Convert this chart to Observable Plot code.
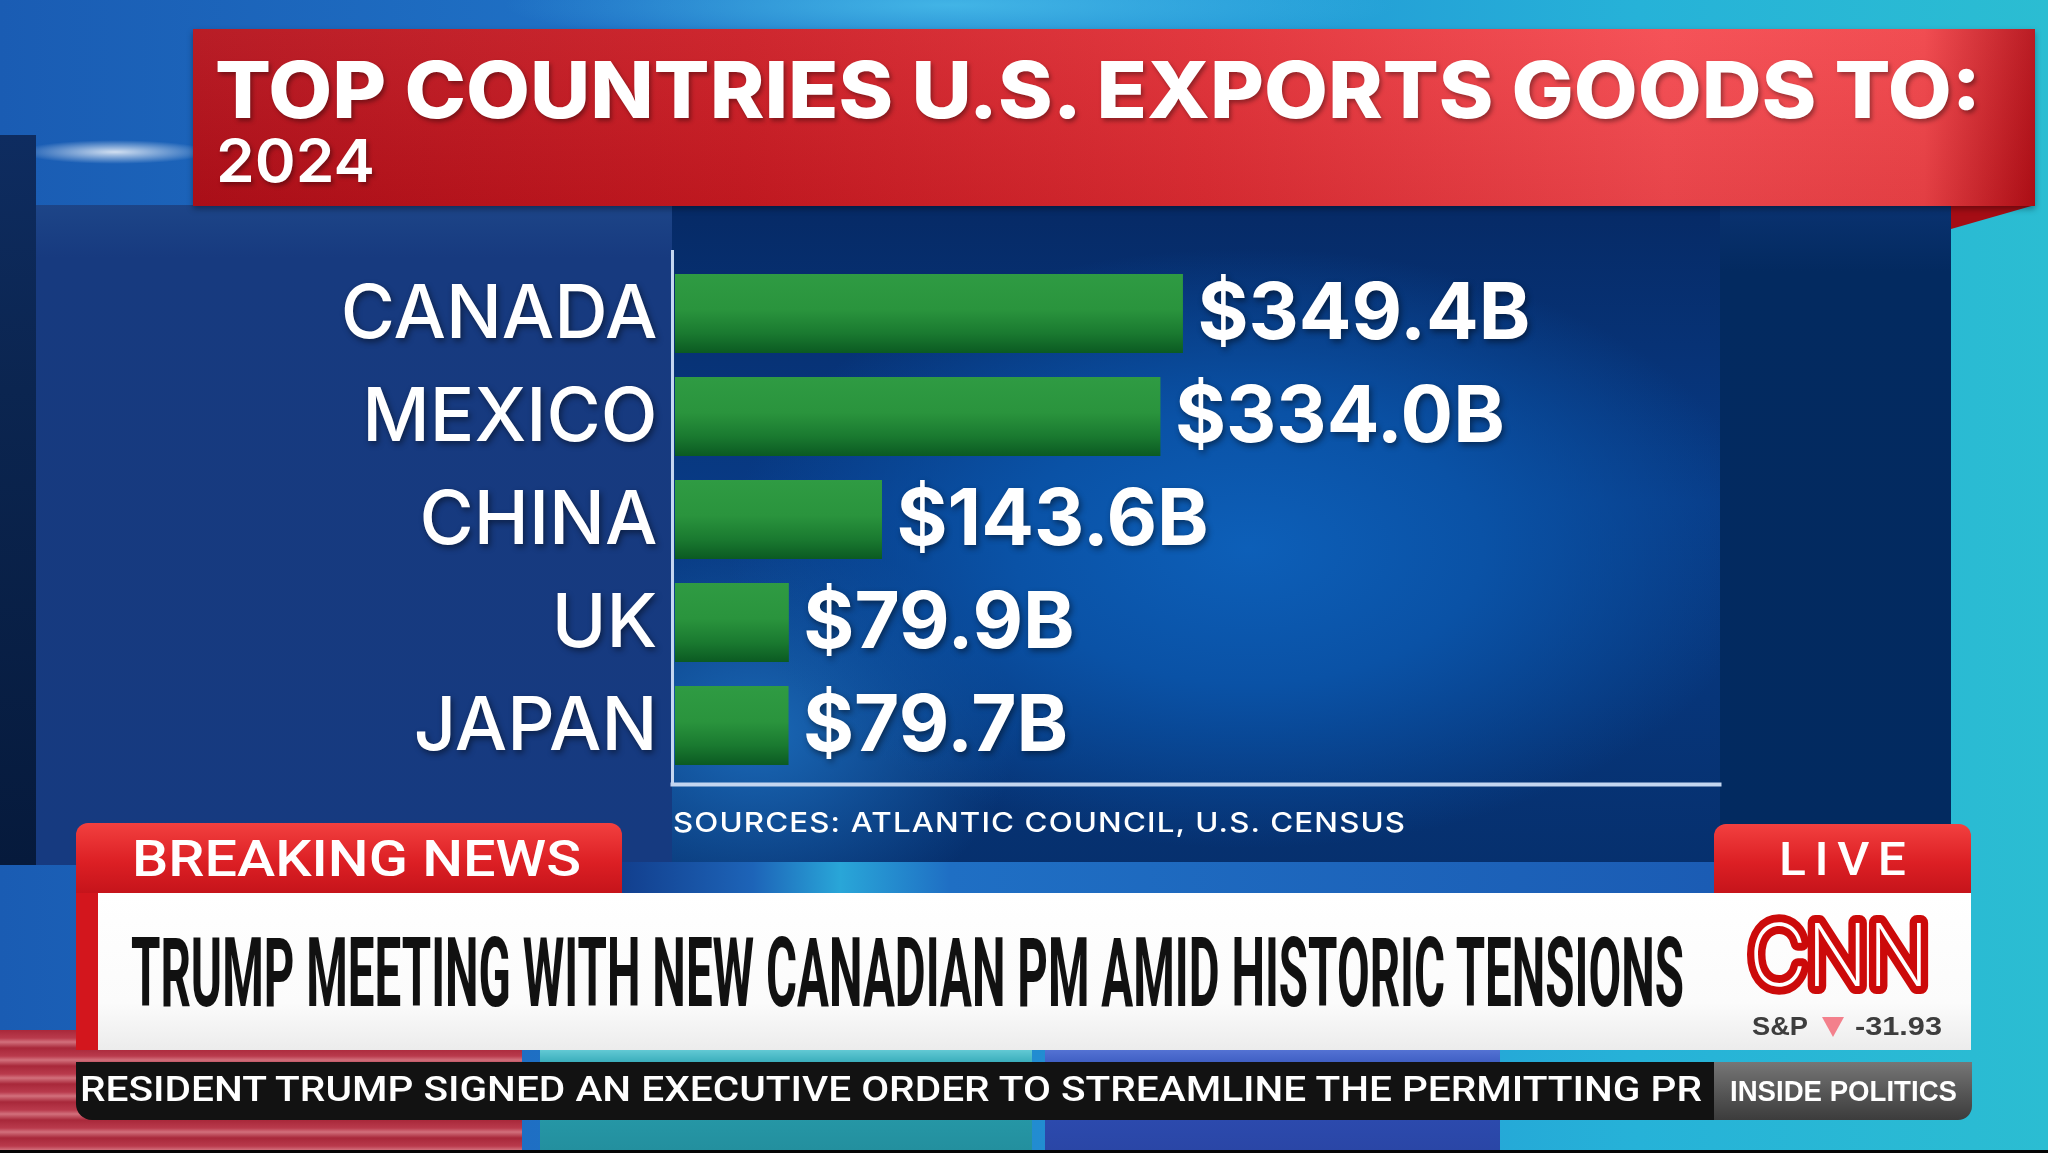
<!DOCTYPE html>
<html><head><meta charset="utf-8">
<script src="https://cdn.jsdelivr.net/npm/d3@7"></script>
<script src="https://cdn.jsdelivr.net/npm/@observablehq/plot@0.6"></script>
<style>
html,body{margin:0;padding:0;background:#1f8fd0;}
#stage{position:relative;width:2048px;height:1153px;overflow:hidden;font-family:Inter,sans-serif;}
.abs{position:absolute;}
.t{position:absolute;white-space:nowrap;line-height:1;transform-origin:0 0;}
#chart text{filter:drop-shadow(2px 3px 3px rgba(0,0,0,0.45));}
#chart g[aria-label="country-label"] text{letter-spacing:6px;}
#chart g[aria-label="value-label"] text{letter-spacing:5px;}
</style></head><body>
<div id="stage">
  <div class="abs" style="left:0;top:0;width:2048px;height:1153px;background:linear-gradient(90deg,#1a5cb3 0%,#1f72c6 30%,#2398d6 60%,#26b2d8 80%,#2bbdd2 100%);"></div>
  <div class="abs" style="left:500px;top:-40px;width:900px;height:90px;background:radial-gradient(ellipse at center,rgba(80,200,240,0.7),rgba(80,200,240,0) 70%);"></div>
  <div class="abs" style="left:20px;top:140px;width:190px;height:24px;background:radial-gradient(ellipse at center,rgba(255,255,255,0.8),rgba(255,255,255,0) 70%);"></div>
  <!-- left dark strip -->
  <div class="abs" style="left:0;top:135px;width:36px;height:730px;background:linear-gradient(180deg,#0e2c60 0%,#0b2550 35%,#061a3c 100%);"></div>
  <!-- main panel -->
  <div class="abs" style="left:36px;top:205px;width:1915px;height:660px;background:linear-gradient(180deg,#1d4588 0%,#173a7f 8%,#163a80 100%);"></div>
  <!-- chart area glow -->
  <div class="abs" style="left:672px;top:205px;width:1048px;height:660px;background:radial-gradient(ellipse 520px 300px at 55% 52%,#0d5fb8 0%,#0a52a6 45%,rgba(8,60,130,0) 100%),radial-gradient(ellipse 260px 200px at 8% 80%,#1a68b6 0%,rgba(20,90,170,0) 100%),linear-gradient(180deg,#062a66 0%,#083b86 45%,#06306e 100%);"></div>
  <!-- right navy strip -->
  <div class="abs" style="left:1720px;top:205px;width:231px;height:660px;background:linear-gradient(180deg,#0a3270 0%,#032a60 10%,#022a60 100%);"></div>
  <!-- red title band -->
  <div class="abs" style="left:1951px;top:205px;width:84px;height:24px;background:#a50d15;clip-path:polygon(0 0,100% 0,0 100%);"></div>
  <div class="abs" style="left:193px;top:29px;width:1842px;height:177px;background:linear-gradient(180deg,rgba(255,255,255,0.06),rgba(0,0,0,0.06)),linear-gradient(90deg,#b40f19 0%,#cb1a22 30%,#e02c33 55%,#f5484e 80%,#f04247 94%,#b50e16 100%);box-shadow:0 3px 6px rgba(0,0,0,0.35);"></div>
  <!-- lower background behind breaking news -->
  <div class="abs" style="left:622px;top:862px;width:1092px;height:32px;background:linear-gradient(90deg,#123f8e 0%,#1d64b8 12%,#29a6d8 20%,#1f6fc4 30%,#1b5cb4 100%);"></div>
  <div class="abs" style="left:0;top:1030px;width:522px;height:121px;background:repeating-linear-gradient(180deg,#a8283a 0px,#b93a4c 8px,#d2707c 12px,#a8283a 18px);"></div>
  <div class="abs" style="left:540px;top:1046px;width:492px;height:105px;background:linear-gradient(180deg,#6fd2dc 0%,#2aa3b2 20%,#238f9e 100%);"></div>
  <div class="abs" style="left:1045px;top:1046px;width:455px;height:105px;background:linear-gradient(180deg,#5a78d8 0%,#2f50b8 25%,#2a46a6 100%);"></div>
  <div class="abs" style="left:0;top:1150px;width:2048px;height:3px;background:#050505;"></div>
  <!-- tabs -->
  <div class="abs" style="left:76px;top:823px;width:546px;height:72px;border-radius:12px 12px 0 0;background:linear-gradient(180deg,#f2403f 0%,#dc1f24 55%,#c4131a 100%);"></div>
  <div class="abs" style="left:1714px;top:824px;width:257px;height:71px;border-radius:12px 12px 0 0;background:linear-gradient(180deg,#f2403f 0%,#dc1f24 55%,#c4131a 100%);"></div>
  <!-- white band -->
  <div class="abs" style="left:76px;top:893px;width:22px;height:157px;background:#d3161d;"></div>
  <div class="abs" style="left:98px;top:893px;width:1873px;height:157px;background:linear-gradient(180deg,#ffffff 0%,#fbfbfb 70%,#ececec 100%);"></div>
  <!-- ticker -->
  <div class="abs" id="ticker" style="left:76px;top:1062px;width:1638px;height:58px;background:#121212;border-radius:0 0 0 16px;"></div>
  <div class="abs" id="insidebox" style="left:1714px;top:1062px;width:258px;height:58px;background:linear-gradient(180deg,#767676 0%,#555 55%,#3c3c3c 100%);border-radius:0 0 14px 0;"></div>
  <!-- CNN logo -->
  <svg class="abs" style="left:1725px;top:880px;" width="230" height="135" viewBox="1725 880 230 135">
    <text x="1749" y="986" font-family="Inter" font-weight="200" font-size="86" textLength="180" lengthAdjust="spacingAndGlyphs" fill="#ffffff" stroke="#cc0a0a" stroke-width="16" stroke-linejoin="round" paint-order="stroke">CNN</text>
  </svg>
  <svg class="abs" style="left:1822px;top:1017px;" width="22" height="20"><polygon points="0,0 22,0 11,20" fill="#f3808c"/></svg>
</div>
<script>
const countries = ["CANADA", "MEXICO", "CHINA", "UK", "JAPAN"];
const exportsBillions = [349.4, 334.0, 143.6, 79.9, 79.7];
const titleText = "TOP COUNTRIES U.S. EXPORTS GOODS TO:";
const subtitleText = "2024";
const captionText = "SOURCES: ATLANTIC COUNCIL, U.S. CENSUS";

const data = countries.map((c, i) => ({country: c, value: exportsBillions[i]}));
const fmt = v => "$" + d3.format(".1f")(v) + "B";

const stage = document.getElementById("stage");

const chart = Plot.plot({
  width: 1760, height: 560,
  marginLeft: 672, marginRight: 41, marginTop: 11, marginBottom: 16,
  style: {background: "transparent", color: "white", overflow: "visible", fontFamily: "Inter"},
  x: {domain: [0, 716], axis: null},
  y: {domain: countries, type: "band", range: [22, 538], paddingInner: 0.23, paddingOuter: 0.1, axis: null},
  marks: [
    Plot.barX(data, {x: "value", y: "country", fill: "url(#barGrad)", insetLeft: 3}),
    Plot.frame({anchor: "left", stroke: "#c4d6f0", strokeWidth: 3}),
    Plot.frame({anchor: "bottom", stroke: "#c4d6f0", strokeWidth: 4}),
    Plot.text(data, {x: 0, y: "country", text: "country", textAnchor: "end", dx: -15, fontSize: 74, fontWeight: 500, fill: "white", ariaLabel: "country-label"}),
    Plot.text(data, {x: "value", y: "country", text: d => fmt(d.value), textAnchor: "start", dx: 14, fontSize: 78, fontWeight: 700, fill: "white", ariaLabel: "value-label"})
  ]
});
const ns = "http://www.w3.org/2000/svg";
const defs = document.createElementNS(ns, "defs");
defs.innerHTML = '<linearGradient id="barGrad" x1="0" y1="0" x2="0" y2="1">' +
  '<stop offset="0" stop-color="#2f9b43"/><stop offset="0.45" stop-color="#2a943d"/>' +
  '<stop offset="0.75" stop-color="#1a7a30"/><stop offset="1" stop-color="#0b5a22"/></linearGradient>';
chart.insertBefore(defs, chart.firstChild);
chart.id = "chart";
chart.style.position = "absolute";
chart.style.left = "0px";
chart.style.top = "240px";
chart.style.maxWidth = "none";
stage.appendChild(chart);

const metrics = {
  Inter: {asc: 0.96875, desc: 0.2421875, cap: 0.727},
  Roboto: {asc: 0.9277, desc: 0.2441, cap: 0.711},
  "Liberation Sans": {asc: 0.905, desc: 0.212, cap: 0.716}
};
function addText(str, o, parent = stage, offX = 0, offY = 0) {
  const m = metrics[o.family];
  const F = o.capH / m.cap;
  const base = (1 - (m.asc + m.desc)) / 2 + m.asc;
  const el = document.createElement("div");
  el.className = "t";
  el.textContent = str;
  el.style.fontFamily = `"${o.family}"`;
  el.style.fontWeight = o.weight;
  el.style.fontSize = F + "px";
  el.style.color = o.color;
  if (o.ls) el.style.letterSpacing = o.ls + "px";
  if (o.shadow) el.style.textShadow = o.shadow;
  el.style.left = (o.left - offX) + "px";
  el.style.top = (o.capTop - F * (base - m.cap) - offY) + "px";
  parent.appendChild(el);
  if (o.width) {
    const nat = el.getBoundingClientRect().width - (o.ls || 0);
    el.style.transform = `scaleX(${o.width / nat})`;
  }
  return el;
}
const sh = "2px 3px 4px rgba(0,0,0,0.35)";
addText(titleText, {left: 215, capTop: 62, capH: 57, width: 1766, family: "Inter", weight: 800, color: "#fff", shadow: sh});
addText(subtitleText, {left: 216, capTop: 139, capH: 43, width: 159, family: "Inter", weight: 600, color: "#fff", shadow: sh});
addText(captionText, {left: 673, capTop: 813, capH: 20, width: 732, family: "Inter", weight: 500, color: "#fff", ls: 1});
addText("BREAKING NEWS", {left: 132, capTop: 841, capH: 35, width: 449, family: "Roboto", weight: 500, color: "#fff"});
addText("LIVE", {left: 1779, capTop: 842, capH: 33, width: 127, family: "Roboto", weight: 500, color: "#fff", ls: 8});
addText("TRUMP MEETING WITH NEW CANADIAN PM AMID HISTORIC TENSIONS", {left: 131, capTop: 938, capH: 69, width: 1553, family: "Roboto", weight: 700, color: "#111"});
addText("S&P", {left: 1752, capTop: 1017, capH: 18, width: 56, family: "Liberation Sans", weight: 700, color: "#3d3d3d"});
addText("-31.93", {left: 1855, capTop: 1017, capH: 18, width: 87, family: "Liberation Sans", weight: 700, color: "#3d3d3d"});
addText("RESIDENT TRUMP SIGNED AN EXECUTIVE ORDER TO STREAMLINE THE PERMITTING PR", {left: 80, capTop: 1077, capH: 25, width: 1622, family: "Roboto", weight: 500, color: "#fff"});
addText("INSIDE POLITICS", {left: 1730, capTop: 1080, capH: 21, width: 227, family: "Liberation Sans", weight: 700, color: "#fff"});
</script>
</body></html>
